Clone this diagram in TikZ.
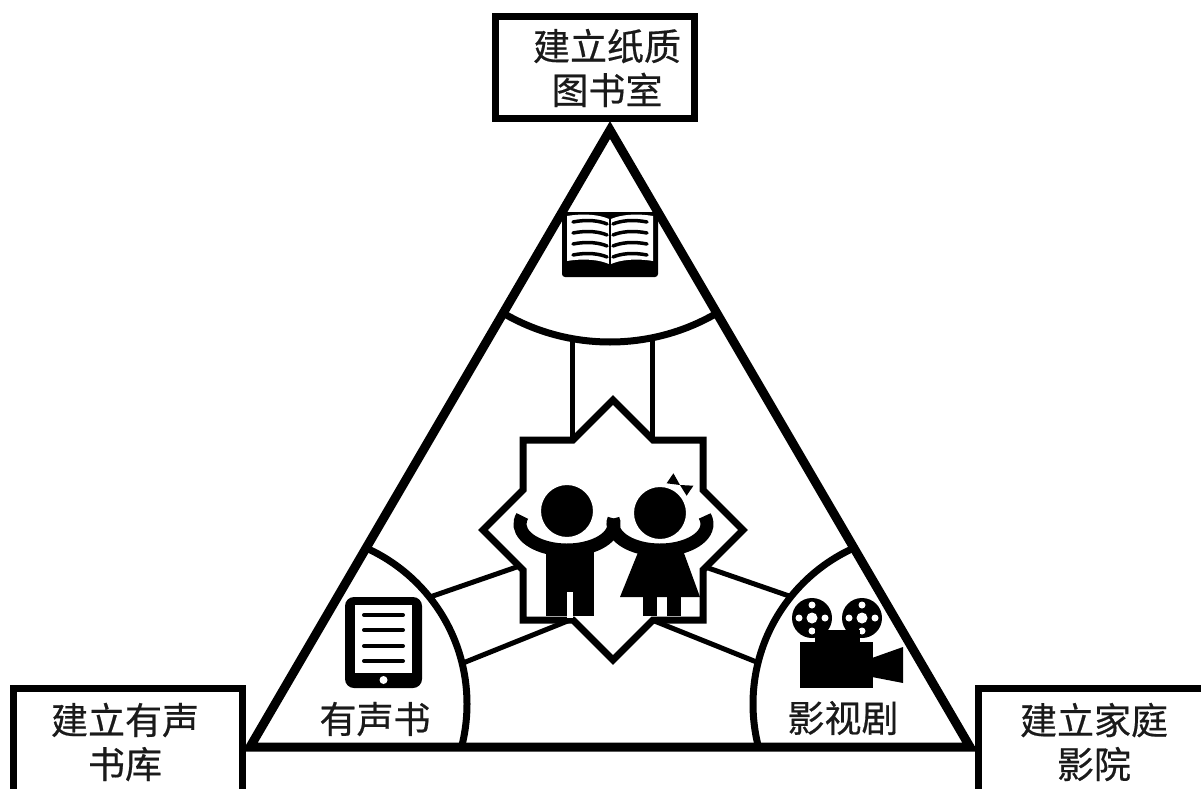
\documentclass[tikz,border=0pt]{standalone}
\usepackage{fontspec}
\newfontfamily\cjk[FakeBold=0.5]{Noto Sans CJK SC}
\definecolor{inktext}{HTML}{1A1A1A}
\begin{document}
\begin{tikzpicture}[x=1pt,y=-1pt,
  frame/.style={draw=black,line width=7.5pt,fill=white,inner sep=0pt},
  boxtext/.style={align=center,inner sep=0pt,
    font=\cjk\fontsize{37}{44}\selectfont,text=inktext},
  caption/.style={font=\cjk\fontsize{37}{44}\selectfont,text=inktext,inner sep=0pt},
  edgeline/.style={line width=9pt,line join=miter},
  arcline/.style={line width=7pt},
  bandline/.style={line width=5pt},
  starline/.style={line width=7pt,line join=miter,fill=white},
  paper/.style={fill=white,draw=none}]
\useasboundingbox (0,0) rectangle (1201,789);

% corners of the triangle
\coordinate (A) at (610,130);
\coordinate (B) at (250,747);
\coordinate (C) at (970,747);

% corner arcs, kept inside the triangle
\begin{scope}
  \clip (A) -- (B) -- (C) -- cycle;
  \draw[arcline] (A) circle[radius=212];
  \draw[arcline] (296,704) circle[radius=171];
  \draw[arcline] (924,704) circle[radius=171];
\end{scope}

% bands from the arcs to the star
\coordinate (t1) at (572,338.6);  \coordinate (t1e) at (572,470);
\coordinate (t2) at (652,337.8);  \coordinate (t2e) at (652,470);
\coordinate (l1) at (430,597);    \coordinate (l1e) at (560,552);
\coordinate (l2) at (463,663);    \coordinate (l2e) at (590,612);
\coordinate (r1) at (792,597);    \coordinate (r1e) at (662,552);
\coordinate (r2) at (759,663);    \coordinate (r2e) at (632,612);
\draw[bandline] (t1) -- (t1e) (t2) -- (t2e);
\draw[bandline] (l1) -- (l1e) (l2) -- (l2e);
\draw[bandline] (r1) -- (r1e) (r2) -- (r2e);

% eight-pointed star in the middle
\begin{scope}[shift={(613,530)}]
  \draw[starline] (0,-130) -- (40,-90) -- (90,-90) -- (90,-40) -- (130,0)
    -- (90,40) -- (90,90) -- (40,90) -- (0,130) -- (-40,90) -- (-90,90)
    -- (-90,40) -- (-130,0) -- (-90,-40) -- (-90,-90) -- (-40,-90) -- cycle;
\end{scope}

% two children holding hands
\draw[line width=13pt] (567,524) ++(198:47 and 26)
  arc[start angle=198,end angle=-12,x radius=47,y radius=26];
\draw[line width=13pt] (660,524) ++(192:47 and 26)
  arc[start angle=192,end angle=-18,x radius=47,y radius=26];
% boy
\fill (546,545) rectangle (594,616);
\fill[white] (567,592) rectangle (573,618);
\draw[fill=black,draw=white,line width=3pt] (567,511) circle[radius=27.5];
% girl
\fill (641,545) -- (681,545) -- (700,597) -- (620,597) -- cycle;
\fill (643,595) rectangle (657,616);
\fill (667,595) rectangle (681,616);
\draw[fill=black,draw=white,line width=3pt] (660,513) circle[radius=27.5];
\fill (680,485) -- (686.6,495.7) -- (693.4,485.7) -- cycle;
\fill (680,485) -- (666.6,483.3) -- (673.4,473.3) -- cycle;

% open book
\fill[rounded corners=3pt] (562,212) rectangle (658,277);
\fill[paper] (567,216) .. controls (585,213) and (600,215) .. (609,219)
  -- (609,264) .. controls (600,260) and (585,258) .. (567,261) -- cycle;
\fill[paper] (653,216) .. controls (635,213) and (620,215) .. (611,219)
  -- (611,264) .. controls (620,260) and (635,258) .. (653,261) -- cycle;
\foreach \yy in {222,233,244,255}{
  \draw[line width=3.5pt,line cap=round] (573,\yy) .. controls (588,\yy-3) and (600,\yy-1) .. (607,\yy+2);
  \draw[line width=3.5pt,line cap=round] (647,\yy) .. controls (632,\yy-3) and (620,\yy-1) .. (613,\yy+2);
}
\fill (609,216) rectangle (611,266);

% tablet
\fill[rounded corners=9pt] (345,597) rectangle (422,688);
\fill[paper] (355,605) rectangle (412,673);
\foreach \yy in {615,630,646,661}{
  \draw[line width=4pt,line cap=round] (364,\yy) -- (403,\yy);
}
\fill[white] (383.5,680) circle[radius=4];

% film camera
\foreach \cx in {812,862}{
  \fill (\cx,618) circle[radius=20];
  \fill[white] (\cx,618) circle[radius=5.5];
  \foreach \ang in {0,90,180,270}{
    \fill[white] (\cx,618) ++(\ang:13) circle[radius=3.5];
  }
}
\fill (815,630) rectangle (860,645);
\fill (800,642) rectangle (873,688);
\fill (872,658) -- (903,647) -- (903,683) -- (872,677) -- cycle;

% labels inside the triangle
\node[caption] (audio) at (375,719) {有声书};
\node[caption] (film) at (843,718) {影视剧};

% the triangle itself
\draw[edgeline] (A) -- (B) -- (C) -- cycle;

% labelled boxes at the corners
\node[frame,minimum width=199pt,minimum height=102pt] (paperlib) at (595,67.5) {};
\node[boxtext] (paperlibtext) at (607,68) {建立纸质\\图书室};
\node[frame,minimum width=229pt,minimum height=107pt] (audiolib) at (128,742) {};
\node[boxtext] (audiolibtext) at (125,742) {建立有声\\书库};
\node[frame,minimum width=231pt,minimum height=107pt] (cinema) at (1094,742) {};
\node[boxtext] (cinematext) at (1094,742) {建立家庭\\影院};
\end{tikzpicture}
\end{document}
